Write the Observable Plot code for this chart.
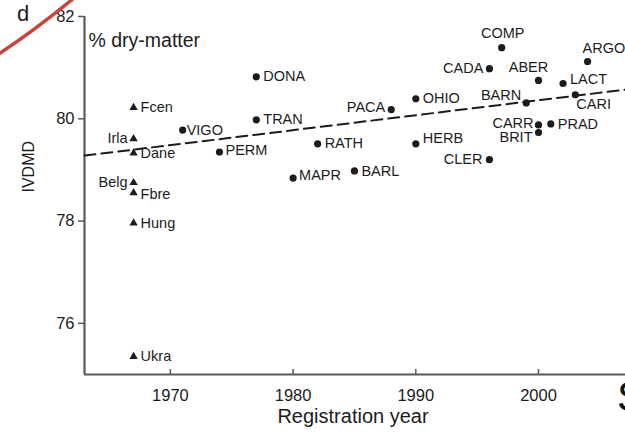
<!DOCTYPE html>
<html><head><meta charset="utf-8">
<script src="https://cdn.jsdelivr.net/npm/d3@7"></script>
<script src="https://cdn.jsdelivr.net/npm/@observablehq/plot@0.6"></script>
<style>
body{margin:0;background:#fff;}
#wrap{position:relative;width:625px;height:434px;overflow:hidden;font-family:"Liberation Sans",Arial,Helvetica,sans-serif;background:#fff;}
#wrap svg{display:block}
.ov{position:absolute;pointer-events:none}
#panel{left:17px;top:1px;font-size:22px;color:#222;}
#sLetter{left:617px;top:373px;font-size:42px;color:#111;}
</style></head>
<body><div id="wrap"></div>
<script>
// Cultivars (dots)
const cultivarNames = ["VIGO","DONA","TRAN","PERM","MAPR","RATH","BARL","PACA","OHIO","HERB","CADA","CLER","COMP","BARN","ABER","CARR","BRIT","PRAD","LACT","CARI","ARGO"];
const cultivarYears = [1971,1977,1977,1974,1980,1982,1985,1988,1990,1990,1996,1996,1997,1999,2000,2000,2000,2001,2002,2003,2004];
const cultivarIVDMD = [79.78,80.82,79.98,79.35,78.84,79.51,78.98,80.18,80.39,79.51,80.98,79.20,81.39,80.31,80.75,79.88,79.73,79.90,80.69,80.47,81.12];
// Ecotypes (triangles)
const ecotypeNames = ["Fcen","Irla","Dane","Belg","Fbre","Hung","Ukra"];
const ecotypeYears = [1967,1967,1967,1967,1967,1967,1967];
const ecotypeIVDMD = [80.22,79.61,79.33,78.75,78.55,77.96,75.35];
// Trend line end points
const trendYears = [1963,2007.09];
const trendIVDMD = [79.28,80.57];
// Ticks
const xTicks = [1970,1980,1990,2000];
const yTicks = [76,78,80,82];

const cultivars = cultivarNames.map((n,i)=>({name:n, year:cultivarYears[i], v:cultivarIVDMD[i]}));
const ecotypes = ecotypeNames.map((n,i)=>({name:n, year:ecotypeYears[i], v:ecotypeIVDMD[i]}));
const trend = trendYears.map((y,i)=>({year:y, v:trendIVDMD[i]}));

// label placement (layout config): [textAnchor, dx, dy]
const place = {
  Irla:["end",-6,0], Belg:["end",-6,0], Fbre:["start",7,1],
  VIGO:["start",4,0],
  PACA:["end",-6,-2], CADA:["end",-6,0], CLER:["end",-7,0],
  COMP:["middle",1,-14], ABER:["middle",-10,-13], ARGO:["start",-5,-13],
  LACT:["start",7,-4], CARI:["start",1,10], BARN:["end",-5,-8],
  CARR:["end",-5,-2], BRIT:["end",-6,5], HERB:["start",7,-5],
  MAPR:["start",6,-3], PERM:["start",6,-2]
};
const defPlace = ["start",7,0];
const all = ecotypes.concat(cultivars);
const groups = d3.group(all, d => (place[d.name]||defPlace).join("|"));

const W = 625, H = 434, mL = 84, mR = 0, mT = 16, mB = 60;
const plotH = H - mT - mB;
const ink = "#1c1c1c";
const axisInk = "#5a5a5a";

const labelMarks = [];
for (const [key, rows] of groups) {
  const [anchor, dx, dy] = key.split("|");
  labelMarks.push(Plot.text(rows, {x:"year", y:"v", text:"name", textAnchor:anchor, dx:+dx, dy:+dy, fontSize:14.5, fill:ink}));
}

const chart = Plot.plot({
  width: W, height: H,
  marginLeft: mL, marginRight: mR, marginTop: mT, marginBottom: mB,
  style: {fontFamily:'"Liberation Sans",Arial,Helvetica,sans-serif', color: ink, background:"white", overflow:"visible"},
  x: {domain:[1963,2007.09], label:null},
  y: {domain:[75,82], label:null},
  marks: [
    Plot.ruleY([75], {stroke: axisInk, strokeWidth: 2.2}),
    Plot.ruleX([1963], {y1: 75, y2: 82, stroke: axisInk, strokeWidth: 2.2}),
    Plot.tickX(xTicks, {x: d=>d, insetTop: plotH - 5, stroke: axisInk, strokeWidth: 1.5}),
    Plot.axisY({ticks: yTicks, tickSize: 6, tickPadding: 4, fontSize: 16.5, tickFormat: "d", stroke: axisInk, strokeWidth: 1.5, label: null}),
    Plot.axisX({ticks: xTicks, tickSize: 0, tickPadding: 15, fontSize: 16.5, tickFormat: "d", label: null}),
    Plot.line(trend, {x:"year", y:"v", stroke: ink, strokeWidth: 2, strokeDasharray: "11,6"}),
    Plot.dot(cultivars, {x:"year", y:"v", r:3.6, fill: ink, stroke: null}),
    Plot.dot(ecotypes, {x:"year", y:"v", r:3.1, symbol:"triangle", fill: ink, stroke: null}),
    ...labelMarks,
    Plot.text(["% dry-matter"], {frameAnchor:"top-left", dx: 4, dy: 17, textAnchor:"start", fontSize: 19.5, fill: ink}),
    Plot.text(["IVDMD"], {frameAnchor:"left", dx: -56, dy: -3, rotate: -90, fontSize: 16, fill: ink}),
    Plot.text(["Registration year"], {frameAnchor:"bottom", dx: -2, dy: 48, fontSize: 20, fill: ink})
  ]
});
const wrap = document.getElementById("wrap");
wrap.appendChild(chart);
// decorative elements from the source figure
const p = document.createElement("div"); p.id="panel"; p.className="ov"; p.textContent="d"; wrap.appendChild(p);
const s = document.createElement("div"); s.id="sLetter"; s.className="ov"; s.textContent="S"; wrap.appendChild(s);
const ns="http://www.w3.org/2000/svg";
const arc = document.createElementNS(ns,"svg");
arc.setAttribute("width","100"); arc.setAttribute("height","70"); arc.setAttribute("class","ov"); arc.style.left="0"; arc.style.top="0";
const path = document.createElementNS(ns,"path");
path.setAttribute("d","M -3 55 Q 34 31 74 -2");
path.setAttribute("fill","none"); path.setAttribute("stroke","#c8453f"); path.setAttribute("stroke-width","3.5");
arc.appendChild(path); wrap.appendChild(arc);
</script>
</body></html>
